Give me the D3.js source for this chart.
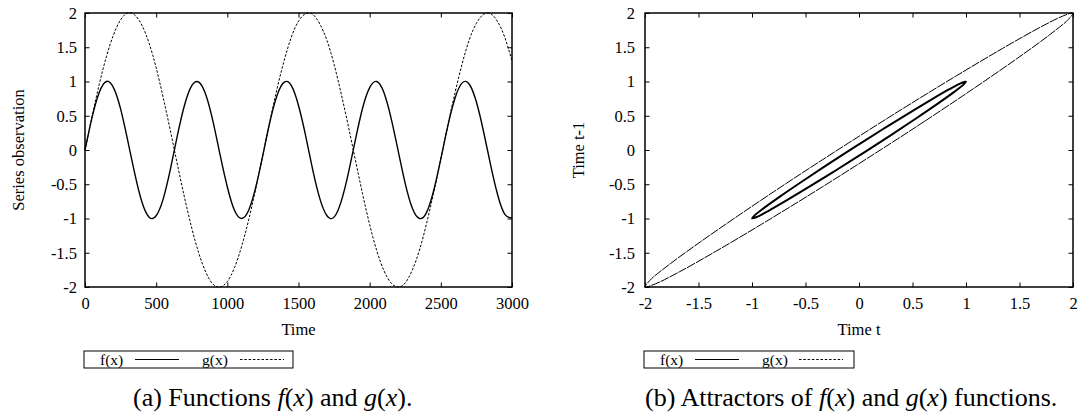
<!DOCTYPE html>
<html><head><meta charset="utf-8">
<script src="https://cdn.jsdelivr.net/npm/d3@7"></script>
<style>
html,body{margin:0;padding:0;background:#fff;}
svg{display:block;font-family:"Liberation Serif","Times New Roman",serif;}
</style></head><body>
<svg id="chart" width="1078" height="419"></svg>
<script>
// ---- data ----
const timeValues = [0,50,100,150,200,250,300,350,400,450,500,550,600,650,700,750,800,850,900,950,
  1000,1050,1100,1150,1200,1250,1300,1350,1400,1450,1500,1550,1600,1650,1700,1750,1800,1850,1900,1950,
  2000,2050,2100,2150,2200,2250,2300,2350,2400,2450,2500,2550,2600,2650,2700,2750,2800,2850,2900,2950,3000];
const fValues = [0,.48,.84,1.00,.91,.60,.14,-.35,-.76,-.98,
  -.96,-.71,-.28,.22,.66,.94,.99,.80,.41,-.08,
  -.54,-.88,-1.00,-.88,-.54,-.07,.42,.80,.99,.94,
  .65,.21,-.29,-.71,-.96,-.98,-.75,-.34,.15,.61,
  .91,1.00,.84,.47,-.01,-.49,-.85,-1.00,-.91,-.59,
  -.13,.36,.76,.98,.96,.70,.27,-.22,-.66,-.94,-.99];
const gValues = [0,.49,.96,1.36,1.68,1.90,2.00,1.97,1.82,1.56,
  1.20,.76,.28,-.22,-.70,-1.14,-1.51,-1.79,-1.96,-2.00,
  -1.92,-1.72,-1.41,-1.02,-.56,-.07,.43,.90,1.31,1.65,
  1.88,1.99,1.98,1.84,1.60,1.25,.82,.35,-.15,-.64,
  -1.09,-1.47,-1.76,-1.94,-2.00,-1.94,-1.75,-1.46,-1.07,-.62,
  -.13,.37,.84,1.26,1.61,1.85,1.98,1.99,1.87,1.64,1.30];
// attractor loops: (value at t, value at t-1)
const attractorFx = [.042,.299,.536,.736,.887,.976,.999,.954,.845,.677,.464,.218,
  -.042,-.299,-.536,-.736,-.887,-.976,-.999,-.954,-.845,-.677,-.464,-.218];
const attractorFy = [-.042,.218,.464,.677,.845,.954,.999,.976,.887,.736,.536,.299,
  .042,-.218,-.464,-.677,-.845,-.954,-.999,-.976,-.887,-.736,-.536,-.299];
const attractorGx = [.100,.614,1.085,1.483,1.780,1.955,1.998,1.904,1.680,1.342,.912,.420,
  -.100,-.614,-1.085,-1.483,-1.780,-1.955,-1.998,-1.904,-1.680,-1.342,-.912,-.420];
const attractorGy = [-.100,.420,.912,1.342,1.680,1.904,1.998,1.955,1.780,1.483,1.085,.614,
  .100,-.420,-.912,-1.342,-1.680,-1.904,-1.998,-1.955,-1.780,-1.483,-1.085,-.614];
const timeTicks = [0,500,1000,1500,2000,2500,3000];
const valueTicks = [-2,-1.5,-1,-0.5,0,0.5,1,1.5,2];
const seriesNames = ["f(x)","g(x)"];

// ---- drawing ----
const svg = d3.select("#chart");
svg.append("rect").attr("width",1078).attr("height",419).attr("fill","#fff");
const TICK_FS = 16.5;
const SERIF = "Liberation Serif, Times New Roman, serif";

function drawFrame(x, y, xTicks, yTicks, gapY){
  const [x0,x1] = x.range(), [y0,y1] = y.range();
  const g = svg.append("g");
  const fmt = d => String(d);
  g.append("g").attr("transform",`translate(0,${y0})`)
    .call(d3.axisBottom(x).tickValues(xTicks).tickFormat(fmt).tickSizeInner(-4.5).tickSizeOuter(0).tickPadding(10));
  g.append("g").attr("transform",`translate(${x0},0)`)
    .call(d3.axisLeft(y).tickValues(yTicks).tickFormat(fmt).tickSizeInner(-4.5).tickSizeOuter(0).tickPadding(gapY));
  g.append("g").attr("transform",`translate(0,${y1})`)
    .call(d3.axisTop(x).tickValues(xTicks).tickFormat("").tickSizeInner(-4.5).tickSizeOuter(0));
  g.append("g").attr("transform",`translate(${x1},0)`)
    .call(d3.axisRight(y).tickValues(yTicks).tickFormat("").tickSizeInner(-4.5).tickSizeOuter(0));
  g.selectAll("g").attr("font-family",SERIF);
  g.selectAll(".domain").remove();
  g.selectAll(".tick line").attr("stroke","#000").attr("stroke-width",1);
  g.selectAll(".tick text").attr("font-family",SERIF).attr("font-size",TICK_FS).attr("fill","#000");
  g.append("rect").attr("x",x0).attr("y",y1).attr("width",x1-x0).attr("height",y0-y1)
    .attr("fill","none").attr("stroke","#000").attr("stroke-width",1.5);
}

function drawLegend(bx, bw, textX, lineX, by){
  const g = svg.append("g");
  g.append("rect").attr("x",bx).attr("y",by).attr("width",bw).attr("height",17)
    .attr("fill","#fff").attr("stroke","#000").attr("stroke-width",1);
  seriesNames.forEach((name,i)=>{
    g.append("text").attr("x",textX[i]).attr("y",by+14).attr("font-family",SERIF).attr("font-size",15.5).text(name);
    g.append("line").attr("x1",lineX[i]).attr("x2",lineX[i]+44).attr("y1",by+8.5).attr("y2",by+8.5)
      .attr("stroke","#000").attr("stroke-width",i===0?1.2:1)
      .attr("stroke-dasharray",i===0?null:"2.5,1.8");
  });
}

function drawCaption(x, y, parts){
  const t = svg.append("text").attr("x",x).attr("y",y).attr("font-family",SERIF).attr("font-size",26);
  parts.forEach(p=>{
    t.append("tspan").attr("font-style",p[1]?"italic":"normal").text(p[0]);
  });
}

// Panel (a)
const xa = d3.scaleLinear().domain([0,3000]).range([85,512]);
const ya = d3.scaleLinear().domain([-2,2]).range([287,13]);
const curveLine = d3.line().x((d,i)=>xa(timeValues[i])).y(d=>ya(d)).curve(d3.curveNatural);
svg.append("path").datum(gValues).attr("d",curveLine).attr("fill","none")
  .attr("stroke","#000").attr("stroke-width",1).attr("stroke-dasharray","2.5,1.6");
svg.append("path").datum(fValues).attr("d",curveLine).attr("fill","none")
  .attr("stroke","#000").attr("stroke-width",1.4);
drawFrame(xa, ya, timeTicks, valueTicks, 8);
svg.append("text").attr("x",(85+512)/2).attr("y",335).attr("text-anchor","middle").attr("font-family",SERIF).attr("font-size",TICK_FS).text("Time");
svg.append("text").attr("transform","translate(18,150) rotate(-90)").attr("dy","0.35em").attr("font-family",SERIF)
  .attr("text-anchor","middle").attr("font-size",TICK_FS).text("Series observation");
drawLegend(84, 209, [100,202], [135,240], 351);
drawCaption(133, 406, [["(a)  Functions ",0],["f",1],["(",0],["x",1],[") and ",0],["g",1],["(",0],["x",1],[").",0]]);

// Panel (b)
const xb = d3.scaleLinear().domain([-2,2]).range([645,1073]);
const yb = d3.scaleLinear().domain([-2,2]).range([287,13]);
const loop = (xs) => d3.line().x((d,i)=>xb(xs[i])).y(d=>yb(d)).curve(d3.curveCatmullRomClosed.alpha(0.5));
svg.append("path").datum(attractorGy).attr("d",loop(attractorGx)).attr("fill","none")
  .attr("stroke","#000").attr("stroke-width",1).attr("stroke-dasharray","9,1");
svg.append("path").datum(attractorFy).attr("d",loop(attractorFx)).attr("fill","none")
  .attr("stroke","#000").attr("stroke-width",2);
drawFrame(xb, yb, valueTicks, valueTicks, 10);
svg.append("text").attr("x",(645+1073)/2).attr("y",335).attr("text-anchor","middle").attr("font-family",SERIF).attr("font-size",TICK_FS).text("Time t");
svg.append("text").attr("transform","translate(578,150) rotate(-90)").attr("dy","0.35em").attr("font-family",SERIF)
  .attr("text-anchor","middle").attr("font-size",TICK_FS).text("Time t-1");
drawLegend(644, 210, [660,762], [695,799], 351);
drawCaption(645, 406, [["(b)  Attractors of ",0],["f",1],["(",0],["x",1],[") and ",0],["g",1],["(",0],["x",1],[") functions.",0]]);
</script>
</body></html>
